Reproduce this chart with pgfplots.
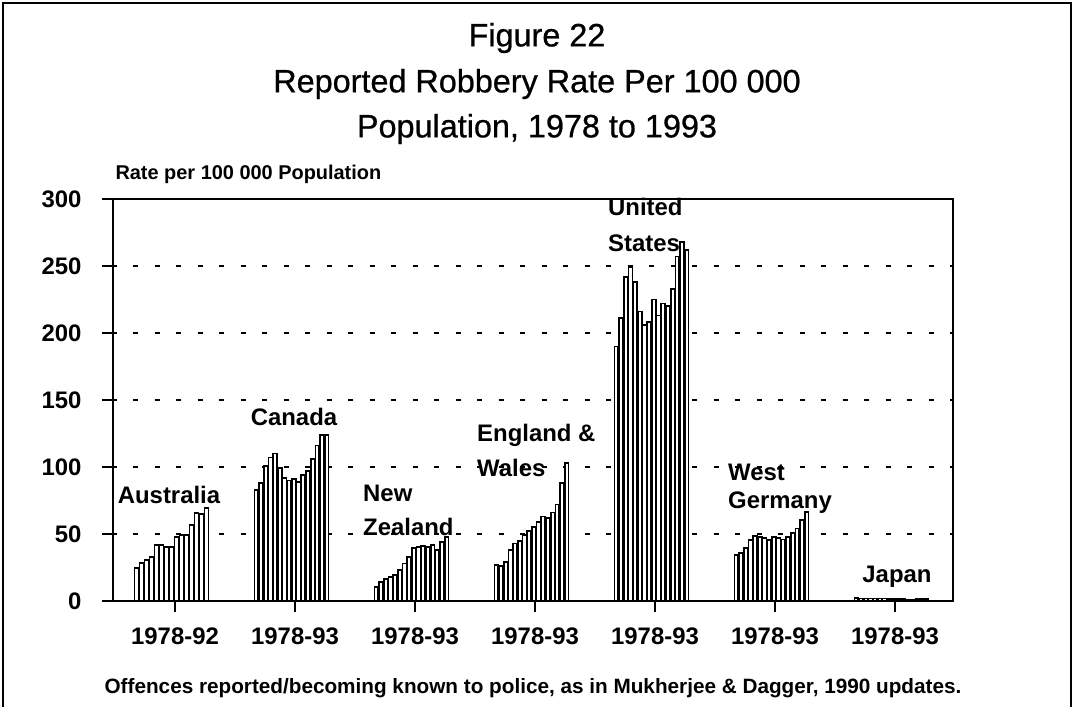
\documentclass[border=0pt]{standalone}
\usepackage{pgfplots}
\pgfplotsset{compat=1.18}
\usepackage{fontspec}
\setmainfont{Liberation Sans}
\newcommand{\tk}{\fontsize{24}{26}\selectfont\bfseries}
\newfontfamily\titlefont[FakeBold=0.7]{Liberation Sans}
\begin{document}
\begin{tikzpicture}
\useasboundingbox (0bp,0bp) rectangle (1074bp,707bp);
\begin{scope}[x=1bp,y=1bp]
\draw[line width=1.5bp] (3,0) -- (3,704) -- (1071,704) -- (1071,0);
\node[font=\titlefont\fontsize{32.5}{36}\selectfont] at (537,669) {Figure 22};
\node[font=\titlefont\fontsize{32.5}{36}\selectfont] at (537,623) {Reported Robbery Rate Per 100 000};
\node[font=\titlefont\fontsize{32.5}{36}\selectfont] at (537,578) {Population, 1978 to 1993};
\node[font=\fontsize{20}{22}\selectfont\bfseries, anchor=west] at (112,533) {Rate per 100 000 Population};
\node[font=\fontsize{20.8}{22}\selectfont\bfseries] at (533,19) {Offences reported/becoming known to police, as in Mukherjee \& Dagger, 1990 updates.};
\end{scope}
\begin{axis}[
  at={(113bp,106bp)}, anchor=south west,
  scale only axis, width=840bp, height=402bp,
  xmin=0, xmax=840, ymin=0, ymax=300,
  axis line style={line width=1.8bp},
  tick style={line width=1.8bp, black},
  major tick length=11bp,
  tick align=outside,
  tick pos=left,
  ytick={0,50,...,300},
  xtick={62,182,302,422,542,662,782},
  xticklabels={1978-92,1978-93,1978-93,1978-93,1978-93,1978-93,1978-93},
  ymajorgrids,
  grid style={line width=2.2bp, dash pattern=on 5bp off 16.5bp, dash phase=-20bp, black},
  ticklabel style={font=\tk},
  /pgf/number format/assume math mode=true,
  yticklabel style={xshift=-17bp},
  xticklabel style={yshift=-12bp},
  every axis plot/.append style={ybar, bar shift=0pt, draw=black, fill=white, line width=1.7bp},
]
% Australia 1978-92
\addplot[bar width=4.2] table[x expr={21+2.5+5*\coordindex}, y=y, row sep=\\] {y\\24.5\\28.6\\30.6\\33\\41.8\\41.8\\40.5\\40.5\\48\\49\\49\\56.7\\65.6\\65\\69.4\\};
% Canada
\addplot[bar width=3.9] table[x expr={141+2.345+4.69*\coordindex}, y=y, row sep=\\] {y\\83\\88\\101\\107\\110\\99\\92\\90\\91\\89\\94\\97\\106\\116\\124\\124\\};
% New Zealand
\addplot[bar width=3.9] table[x expr={261+2.345+4.69*\coordindex}, y=y, row sep=\\] {y\\10.7\\14.4\\16.2\\17.7\\19.4\\23.1\\28\\33\\39.3\\40.5\\41\\40.5\\41.8\\38\\44.2\\48\\};
% England & Wales
\addplot[bar width=3.9] table[x expr={381+2.345+4.69*\coordindex}, y=y, row sep=\\] {y\\27\\26\\29\\38\\43\\45\\49\\52\\55\\59\\63\\62\\66\\72\\88\\103\\};
% United States
\addplot[bar width=3.9] table[x expr={501+2.345+4.69*\coordindex}, y=y, row sep=\\] {y\\190\\211\\242\\249\\238\\216\\206\\208\\225\\213\\222\\220\\233\\257\\268\\262\\};
% West Germany
\addplot[bar width=3.9] table[x expr={621+2.345+4.69*\coordindex}, y=y, row sep=\\] {y\\34.3\\35.6\\39.3\\45.5\\48.5\\48\\46.8\\45.5\\48\\46.8\\46\\48\\50.5\\54.2\\60.4\\66.6\\};
% Japan
\addplot[bar width=3.9] table[x expr={741+2.345+4.69*\coordindex}, y=y, row sep=\\] {y\\2.0\\1.9\\1.9\\1.8\\1.9\\1.8\\1.8\\1.7\\1.6\\1.5\\1.3\\1.2\\1.1\\1.3\\1.5\\1.7\\};
\end{axis}
\begin{scope}[x=1bp,y=1bp]
\node[font=\tk] at (169,212) {Australia};
\node[font=\tk] at (294,290) {Canada};
\node[font=\tk, anchor=west, inner sep=0pt] at (363,214) {New};
\node[font=\tk, anchor=west, inner sep=0pt] at (363,180) {Zealand};
\node[font=\tk, anchor=west, inner sep=0pt] at (477,272) {England \&};
\node[font=\tk, anchor=west, inner sep=0pt] at (477,239) {Wales};
\node[font=\tk, anchor=west, inner sep=0pt] at (608,500) {United};
\node[font=\tk, anchor=west, inner sep=0pt] at (608,464) {States};
\node[font=\tk, anchor=west, inner sep=0pt] at (728,235) {West};
\node[font=\tk, anchor=west, inner sep=0pt] at (728,204) {Germany};
\node[font=\tk] at (897,130) {Japan};
\end{scope}
\end{tikzpicture}
\end{document}
